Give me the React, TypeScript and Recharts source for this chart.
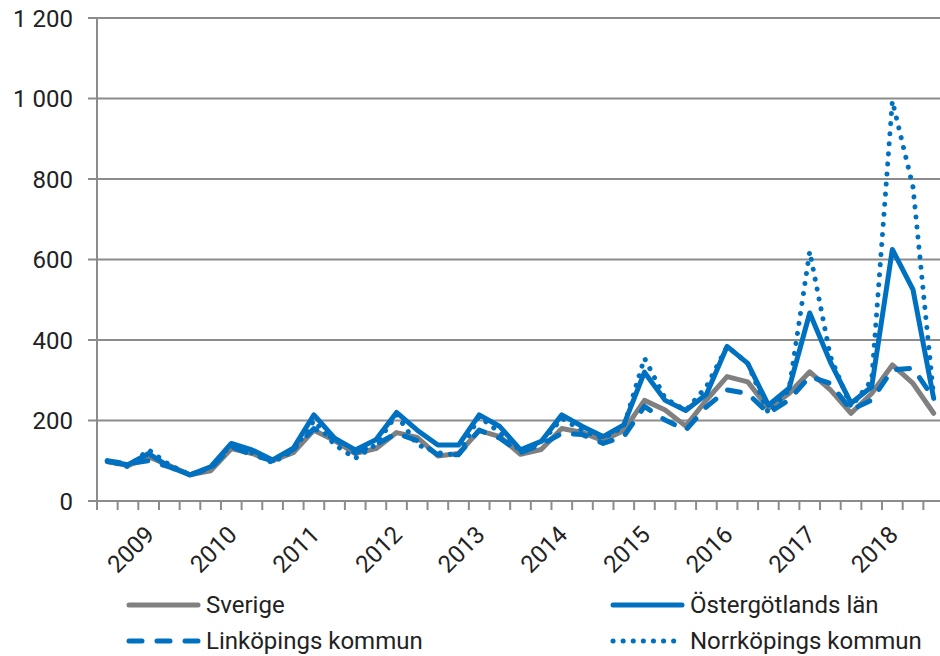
import { LineChart, Line, XAxis, YAxis, CartesianGrid } from 'recharts';

// kvartal 2008 K3 – 2018 K3
const quarters = [
  '2008 K3', '2008 K4',
  '2009 K1', '2009 K2', '2009 K3', '2009 K4',
  '2010 K1', '2010 K2', '2010 K3', '2010 K4',
  '2011 K1', '2011 K2', '2011 K3', '2011 K4',
  '2012 K1', '2012 K2', '2012 K3', '2012 K4',
  '2013 K1', '2013 K2', '2013 K3', '2013 K4',
  '2014 K1', '2014 K2', '2014 K3', '2014 K4',
  '2015 K1', '2015 K2', '2015 K3', '2015 K4',
  '2016 K1', '2016 K2', '2016 K3', '2016 K4',
  '2017 K1', '2017 K2', '2017 K3', '2017 K4',
  '2018 K1', '2018 K2', '2018 K3',
];

const sverige = [
  98, 88, 110, 88, 65, 75, 130, 118, 100, 120, 176, 150, 118, 130, 170, 158, 112, 118, 175, 160,
  116, 128, 180, 170, 150, 175, 250, 226, 186, 251, 309, 296, 230, 267, 321, 276, 218, 267, 338, 292,
  218,
];
const ostergotland = [
  98, 90, 118, 85, 65, 85, 143, 127, 102, 131, 214, 156, 127, 152, 220, 176, 139, 139, 214, 185,
  127, 148, 214, 185, 160, 189, 320, 250, 225, 265, 384, 342, 238, 280, 467, 345, 243, 284, 625, 525,
  255,
];
const linkoping = [
  100, 92, 100, 85, 65, 80, 135, 115, 100, 128, 180, 155, 120, 140, 168, 150, 115, 115, 176, 156,
  120, 140, 168, 165, 143, 160, 235, 201, 176, 234, 276, 267, 218, 251, 309, 292, 226, 251, 326, 330,
  255,
];
const norrkoping = [
  100, 85, 127, 90, 65, 82, 140, 120, 95, 125, 200, 140, 106, 140, 215, 140, 120, 114, 210, 170,
  125, 145, 205, 175, 155, 185, 355, 255, 225, 284, 384, 342, 218, 276, 620, 359, 234, 300, 994, 780,
  259,
];

const yTicks = [0, 200, 400, 600, 800, 1000, 1200];

const data = quarters.map((q, i) => ({
  q,
  sverige: sverige[i],
  ostergotland: ostergotland[i],
  linkoping: linkoping[i],
  norrkoping: norrkoping[i],
}));

const BLUE = '#0070C0';
const GRAY = '#808080';
const AXIS = '#8c8c8c';
const TEXT = '#222';
const FONT = 'Roboto, "Open Sans", sans-serif';

const PLOT_LEFT = 97;
const PLOT_RIGHT = 944;
const BAND = (PLOT_RIGHT - PLOT_LEFT) / quarters.length;

const DASH = '13 15';
const DOT = '0.1 10';
const LW = 5;

const YearTick = (props: any) => {
  const { x, y, index } = props;
  const label: string = quarters[index];
  const showYear = label.endsWith('K1');
  const ly = y + 29;
  return (
    <g>
      <line x1={x - BAND / 2} x2={x - BAND / 2} y1={y} y2={y + 9} stroke={AXIS} strokeWidth={2} />
      {index === quarters.length - 1 && (
        <line x1={x + BAND / 2} x2={x + BAND / 2} y1={y} y2={y + 9} stroke={AXIS} strokeWidth={2} />
      )}
      {showYear && (
        <text
          x={x + 1}
          y={ly}
          dy="0.36em"
          textAnchor="end"
          transform={`rotate(-45 ${x + 1} ${ly})`}
          fontSize={24}
          fontFamily={FONT}
          fill={TEXT}
        >
          {label.slice(0, 4)}
        </text>
      )}
    </g>
  );
};

const legendItems = [
  { name: 'Sverige', color: GRAY, dash: undefined, x: 129, y: 605 },
  { name: 'Östergötlands län', color: BLUE, dash: undefined, x: 613, y: 605 },
  { name: 'Linköpings kommun', color: BLUE, dash: DASH, x: 129, y: 641 },
  { name: 'Norrköpings kommun', color: BLUE, dash: DOT, x: 613, y: 641 },
];

export default function App() {
  return (
    <div
      style={{
        position: 'fixed',
        left: 0,
        top: 0,
        width: 940,
        height: 656,
        overflow: 'hidden',
        background: '#fff',
      }}
    >
      <LineChart width={960} height={656} data={data} margin={{ top: 18, right: 16, left: 0, bottom: 75 }}>
        <CartesianGrid vertical={false} stroke={AXIS} strokeWidth={2} />
        <XAxis
          dataKey="q"
          interval={0}
          tickLine={false}
          tickSize={0}
          tickMargin={0}
          height={80}
          padding={{ left: BAND / 2, right: BAND / 2 }}
          axisLine={{ stroke: AXIS, strokeWidth: 2 }}
          tick={<YearTick />}
        />
        <YAxis
          width={97}
          domain={[0, 1200]}
          ticks={yTicks}
          interval={0}
          tickSize={9}
          tickMargin={15}
          axisLine={{ stroke: AXIS, strokeWidth: 2 }}
          tickLine={{ stroke: AXIS, strokeWidth: 2 }}
          tick={{ fontSize: 24, fill: TEXT, fontFamily: FONT }}
          tickFormatter={(v: number) => (v >= 1000 ? `${Math.floor(v / 1000)} ${String(v % 1000).padStart(3, '0')}` : String(v))}
        />
        <Line
          dataKey="sverige"
          stroke={GRAY}
          strokeWidth={LW}
          strokeLinecap="round"
          strokeLinejoin="round"
          dot={false}
          activeDot={false}
          isAnimationActive={false}
        />
        <Line
          dataKey="ostergotland"
          stroke={BLUE}
          strokeWidth={LW}
          strokeLinecap="round"
          strokeLinejoin="round"
          dot={false}
          activeDot={false}
          isAnimationActive={false}
        />
        <Line
          dataKey="linkoping"
          stroke={BLUE}
          strokeWidth={LW}
          strokeDasharray={DASH}
          strokeLinecap="round"
          strokeLinejoin="round"
          dot={false}
          activeDot={false}
          isAnimationActive={false}
        />
        <Line
          dataKey="norrkoping"
          stroke={BLUE}
          strokeWidth={LW}
          strokeDasharray={DOT}
          strokeLinecap="round"
          strokeLinejoin="round"
          dot={false}
          activeDot={false}
          isAnimationActive={false}
        />
      </LineChart>
      <svg
        width={940}
        height={656}
        style={{ position: 'absolute', left: 0, top: 0, pointerEvents: 'none' }}
      >
        {legendItems.map((it) => (
          <g key={it.name}>
            <line
              x1={it.x}
              x2={it.x + 69}
              y1={it.y}
              y2={it.y}
              stroke={it.color}
              strokeWidth={5}
              strokeLinecap="round"
              strokeDasharray={it.dash}
            />
            <text x={it.x + 77} y={it.y} dy="0.33em" fontSize={24} fontFamily={FONT} fill={TEXT}>
              {it.name}
            </text>
          </g>
        ))}
      </svg>
    </div>
  );
}
